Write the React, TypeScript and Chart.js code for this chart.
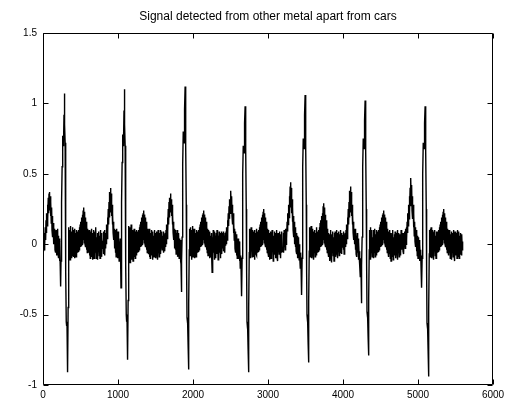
import React, { useEffect, useRef } from "react";
import { Chart, registerables } from "chart.js";

Chart.register(...registerables);

const chartTitle = "Signal detected from other metal apart from cars";
const xTickValues = [0, 1000, 2000, 3000, 4000, 5000, 6000];
const yTickValues = [-1, -0.5, 0, 0.5, 1, 1.5];
const sampleStep = 5;

const beat1 = [
  0.03, -0.05, 0.07, -0.04, 0.08, 0.0, 0.12, 0.03, 0.17, 0.08,
  0.22, 0.13, 0.28, 0.18, 0.33, 0.22, 0.36, 0.37, 0.24, 0.34,
  0.2, 0.3, 0.15, 0.26, 0.1, 0.2, 0.05, 0.15, 0.0, 0.12,
  0.03, 0.11, -0.04, 0.09, -0.06, 0.1, -0.08, 0.07, -0.05, 0.11,
  -0.07, 0.06, -0.1, 0.04, -0.12, 0.02, -0.16, -0.3, -0.12, 0.05,
  0.3, 0.55, 0.77, 0.72, 0.7, 0.76, 0.92, 1.07, 0.85, 0.72,
  0.3, -0.2, -0.55, -0.58, -0.56, -0.75, -0.91, -0.45, -0.05, 0.12,
  -0.09, 0.1, -0.11, 0.13, -0.06, 0.09, -0.1, 0.08, -0.08, 0.12,
  -0.05, 0.1, -0.09, 0.07, -0.1, 0.11, -0.06, 0.08, -0.09, 0.1,
  -0.08, 0.08, -0.06, 0.09, -0.05, 0.1, -0.04, 0.12, -0.03, 0.14,
  -0.02, 0.16, -0.01, 0.19, 0.0, 0.21, 0.02, 0.24, 0.03, 0.26,
  0.01, 0.23, 0.0, 0.19, -0.02, 0.16, -0.04, 0.13, -0.06, 0.11,
  -0.04, 0.09, -0.06, 0.1, -0.08, 0.07, -0.1, 0.09, -0.07, 0.11,
  -0.09, 0.06, -0.11, 0.08, -0.05, 0.1, -0.1, 0.07, -0.08, 0.09,
  -0.06, 0.12, -0.1, 0.05, -0.09, 0.08, -0.11, 0.07, -0.04, 0.09,
  -0.08, 0.06, -0.1, 0.1, -0.05, 0.08, -0.09, 0.05, -0.03, 0.02,
];
const beat2 = [
  0.02, -0.07, 0.09, -0.05, 0.1, -0.08, 0.06, -0.03, 0.08, 0.0,
  0.14, 0.04, 0.19, 0.09, 0.25, 0.14, 0.3, 0.19, 0.37, 0.23,
  0.4, 0.24, 0.36, 0.2, 0.28, 0.14, 0.22, 0.08, 0.16, 0.03,
  0.11, -0.03, 0.1, -0.06, 0.08, -0.09, 0.11, -0.05, 0.07, -0.1,
  0.09, -0.07, 0.05, -0.12, 0.02, -0.1, 0.04, -0.12, -0.31, -0.1,
  0.3, 0.58, 0.78, 0.72, 0.7, 0.78, 0.95, 1.1, 0.85, 0.7,
  0.25, -0.15, -0.5, -0.55, -0.52, -0.7, -0.82, -0.4, -0.03, 0.13,
  -0.1, 0.12, -0.13, 0.09, -0.08, 0.14, -0.11, 0.07, -0.06, 0.1,
  -0.12, 0.08, -0.07, 0.11, -0.09, 0.06, -0.1, 0.09, -0.05, 0.1,
  -0.08, 0.08, -0.06, 0.09, -0.05, 0.1, -0.04, 0.12, -0.03, 0.14,
  -0.02, 0.16, -0.01, 0.19, 0.0, 0.21, 0.02, 0.22, 0.03, 0.24,
  0.01, 0.21, 0.0, 0.19, -0.02, 0.16, -0.04, 0.13, -0.06, 0.11,
  -0.04, 0.09, -0.07, 0.11, -0.09, 0.06, -0.1, 0.08, -0.06, 0.1,
  -0.08, 0.07, -0.11, 0.09, -0.05, 0.06, -0.09, 0.1, -0.07, 0.08,
  -0.1, 0.06, -0.04, 0.09, -0.08, 0.07, -0.11, 0.1, -0.06, 0.05,
  -0.09, 0.08, -0.05, 0.1, -0.07, 0.06, -0.03, 0.09, -0.04, 0.0,
];
const beat3 = [
  0.06, -0.06, 0.09, -0.03, 0.07, -0.05, 0.08, -0.02, 0.1, 0.0,
  0.14, 0.04, 0.19, 0.09, 0.25, 0.14, 0.3, 0.19, 0.33, 0.23,
  0.36, 0.24, 0.32, 0.2, 0.28, 0.14, 0.22, 0.08, 0.16, 0.03,
  0.11, -0.03, 0.1, -0.04, 0.09, -0.07, 0.08, -0.05, 0.1, -0.09,
  0.06, -0.06, 0.08, -0.1, 0.04, -0.08, 0.03, -0.12, -0.14, -0.34,
  -0.12, 0.05, 0.3, 0.57, 0.8, 0.74, 0.72, 0.8, 0.96, 1.12,
  0.86, 0.7, 0.28, -0.2, -0.52, -0.56, -0.54, -0.72, -0.89, -0.42,
  -0.04, 0.11, -0.08, 0.12, -0.06, 0.1, -0.11, 0.08, -0.07, 0.13,
  -0.09, 0.07, -0.05, 0.11, -0.1, 0.09, -0.06, 0.08, -0.09, 0.1,
  -0.08, 0.08, -0.06, 0.09, -0.05, 0.1, -0.04, 0.12, -0.03, 0.14,
  -0.02, 0.16, -0.01, 0.19, 0.0, 0.21, 0.02, 0.22, 0.03, 0.24,
  0.01, 0.21, 0.0, 0.19, -0.02, 0.16, -0.04, 0.13, -0.06, 0.11,
  -0.08, 0.1, -0.06, 0.07, -0.1, 0.09, -0.07, 0.06, -0.09, 0.08,
  -0.06, -0.2, 0.05, -0.08, 0.1, -0.06, 0.07, -0.11, 0.09, -0.05,
  0.06, -0.1, 0.08, -0.07, 0.1, -0.04, 0.07, -0.11, 0.06, -0.08,
  0.09, -0.06, 0.08, -0.1, 0.05, -0.04, 0.09, -0.07, 0.08, -0.03,
];
const beat4 = [
  0.07, -0.05, 0.09, -0.03, 0.06, -0.06, 0.08, -0.01, 0.09, 0.0,
  0.12, 0.03, 0.17, 0.08, 0.22, 0.13, 0.27, 0.18, 0.32, 0.22,
  0.35, 0.38, 0.25, 0.34, 0.2, 0.28, 0.14, 0.22, 0.08, 0.16,
  0.03, 0.11, -0.03, 0.09, -0.06, 0.07, -0.08, 0.06, -0.1, 0.04,
  -0.1, 0.04, -0.09, 0.02, -0.12, -0.02, -0.17, -0.08, -0.14, -0.2,
  -0.37, -0.1, 0.25, 0.5, 0.7, 0.66, 0.65, 0.72, 0.86, 0.98,
  0.8, 0.68, 0.25, -0.2, -0.55, -0.6, -0.57, -0.75, -0.91, -0.45,
  -0.06, 0.11, -0.07, 0.09, -0.1, 0.12, -0.05, 0.08, -0.09, 0.1,
  -0.04, 0.09, -0.09, 0.06, -0.11, 0.1, -0.06, 0.08, -0.07, 0.11,
  -0.08, 0.08, -0.06, 0.09, -0.05, 0.1, -0.04, 0.12, -0.03, 0.14,
  -0.02, 0.16, -0.01, 0.19, 0.0, 0.21, 0.02, 0.23, 0.03, 0.25,
  0.01, 0.22, 0.0, 0.19, -0.02, 0.16, -0.04, 0.13, -0.06, 0.11,
  -0.06, 0.1, -0.09, 0.08, -0.11, 0.06, -0.06, 0.09, -0.1, 0.05,
  -0.08, 0.1, -0.05, 0.07, -0.12, 0.06, -0.07, 0.09, -0.04, 0.08,
  -0.1, 0.07, -0.06, 0.1, -0.09, 0.05, -0.12, 0.08, -0.05, 0.06,
  -0.07, 0.09, -0.04, 0.07, -0.1, 0.05, -0.06, 0.09, -0.05, -0.03,
];
const beat5 = [
  -0.03, 0.08, -0.06, 0.1, -0.02, 0.09, -0.04, 0.11, 0.0, 0.1,
  0.04, 0.16, 0.09, 0.22, 0.14, 0.28, 0.19, 0.34, 0.23, 0.41,
  0.44, 0.26, 0.4, 0.22, 0.32, 0.16, 0.26, 0.1, 0.2, 0.05,
  0.16, 0.0, 0.12, -0.02, 0.1, -0.05, 0.08, -0.07, 0.06, -0.1,
  0.05, -0.08, 0.03, -0.11, 0.0, -0.08, -0.17, -0.06, -0.13, -0.2,
  -0.36, -0.1, 0.28, 0.55, 0.75, 0.7, 0.68, 0.76, 0.92, 1.06,
  0.84, 0.7, 0.28, -0.2, -0.5, -0.55, -0.52, -0.7, -0.84, -0.4,
  -0.05, 0.12, -0.09, 0.1, -0.06, 0.13, -0.1, 0.07, -0.05, 0.11,
  -0.08, 0.09, -0.11, 0.07, -0.06, 0.1, -0.09, 0.08, -0.05, 0.12,
  -0.08, 0.08, -0.06, 0.09, -0.05, 0.1, -0.04, 0.12, -0.03, 0.15,
  -0.02, 0.17, -0.01, 0.2, 0.0, 0.22, 0.02, 0.27, 0.03, 0.29,
  0.01, 0.26, 0.0, 0.21, -0.02, 0.17, -0.04, 0.14, -0.06, 0.11,
  -0.05, 0.08, -0.09, 0.07, -0.12, 0.06, -0.08, 0.1, -0.1, 0.04,
  -0.13, 0.07, -0.06, 0.09, -0.08, 0.05, -0.12, 0.08, -0.06, 0.09,
  -0.09, 0.04, -0.07, 0.1, -0.05, 0.08, -0.1, 0.06, -0.04, 0.09,
  -0.08, 0.07, -0.06, 0.1, -0.03, 0.06, -0.07, 0.08, -0.02, 0.06,
];
const beat6 = [
  0.06, -0.04, 0.09, -0.07, 0.07, -0.03, 0.08, -0.02, 0.1, 0.0,
  0.14, 0.04, 0.19, 0.09, 0.25, 0.14, 0.3, 0.19, 0.38, 0.23,
  0.41, 0.24, 0.37, 0.2, 0.28, 0.14, 0.22, 0.08, 0.16, 0.03,
  0.11, 0.0, 0.11, -0.04, 0.09, -0.07, 0.06, -0.09, 0.08, -0.06,
  0.04, -0.11, 0.02, -0.08, -0.05, -0.15, -0.23, -0.1, -0.18, -0.42,
  -0.15, 0.05, 0.3, 0.55, 0.75, 0.69, 0.68, 0.75, 0.88, 1.02,
  0.8, 0.66, 0.25, -0.15, -0.48, -0.52, -0.5, -0.66, -0.79, -0.38,
  -0.04, 0.1, -0.08, 0.12, -0.11, 0.07, -0.06, 0.1, -0.09, 0.05,
  -0.03, 0.1, -0.1, 0.08, -0.06, 0.11, -0.09, 0.07, -0.05, 0.1,
  -0.08, 0.08, -0.06, 0.09, -0.05, 0.1, -0.04, 0.12, -0.03, 0.14,
  -0.02, 0.16, -0.01, 0.19, 0.0, 0.21, 0.02, 0.22, 0.03, 0.24,
  0.01, 0.21, 0.0, 0.19, -0.02, 0.16, -0.04, 0.13, -0.06, 0.11,
  -0.05, 0.09, -0.09, 0.07, -0.07, 0.1, -0.1, 0.08, -0.12, 0.06,
  -0.06, 0.08, -0.09, 0.1, -0.11, 0.05, -0.05, 0.07, -0.08, 0.09,
  -0.1, 0.06, -0.04, 0.08, -0.07, 0.1, -0.11, 0.05, -0.06, 0.08,
  -0.09, 0.07, -0.05, 0.05, -0.08, 0.1, -0.04, 0.06, -0.02, 0.08,
];
const beat7 = [
  -0.05, 0.08, -0.07, 0.06, -0.02, 0.09, -0.03, 0.11, 0.0, 0.12,
  0.03, 0.16, 0.08, 0.22, 0.13, 0.28, 0.18, 0.34, 0.23, 0.4,
  0.27, 0.47, 0.3, 0.42, 0.24, 0.34, 0.18, 0.28, 0.12, 0.22,
  0.06, 0.16, 0.02, 0.12, -0.02, 0.1, -0.05, 0.08, -0.08, 0.06,
  -0.1, 0.05, -0.07, 0.03, -0.12, 0.0, -0.09, -0.04, -0.15, -0.08,
  -0.31, -0.1, 0.25, 0.5, 0.72, 0.68, 0.68, 0.74, 0.86, 0.98,
  0.8, 0.66, 0.25, -0.2, -0.56, -0.6, -0.58, -0.76, -0.94, -0.46,
  -0.07, 0.1, -0.09, 0.11, -0.05, 0.12, -0.1, 0.08, -0.06, 0.1,
  -0.08, 0.07, -0.11, 0.09, -0.05, 0.1, -0.08, 0.06, -0.1, 0.09,
  -0.08, 0.08, -0.06, 0.09, -0.05, 0.1, -0.04, 0.12, -0.03, 0.14,
  -0.02, 0.16, -0.01, 0.19, 0.0, 0.21, 0.02, 0.23, 0.03, 0.25,
  0.01, 0.22, 0.0, 0.19, -0.02, 0.16, -0.04, 0.13, -0.06, 0.11,
  -0.04, 0.1, -0.08, 0.08, -0.06, 0.1, -0.1, 0.07, -0.07, 0.09,
  -0.11, 0.06, -0.05, 0.08, -0.09, 0.1, -0.06, 0.07, -0.12, 0.09,
  -0.08, 0.05, -0.06, 0.08, -0.1, 0.1, -0.05, 0.07, -0.09, 0.09,
  -0.1, 0.06, -0.07, 0.08, -0.06, 0.05, -0.08, 0.07, -0.04, 0.02,
];

const signal = [...beat1, ...beat2, ...beat3, ...beat4, ...beat5, ...beat6, ...beat7];

const FONT = '"Liberation Sans", Arial, Helvetica, sans-serif';

export default function App() {
  const ref = useRef<HTMLCanvasElement | null>(null);

  useEffect(() => {
    if (!ref.current) return;
    const points = signal.map((v, i) => ({ x: i * sampleStep, y: v }));

    const frame = {
      id: "matlabFrame",
      afterDraw(chart: any) {
        const ctx = chart.ctx as CanvasRenderingContext2D;
        const a = chart.chartArea;
        const xs = chart.scales.x;
        const ys = chart.scales.y;
        const L = Math.round(a.left) + 0.5;
        const R = Math.round(a.right) - 0.5;
        const T = Math.round(a.top) + 0.5;
        const B = Math.round(a.bottom) - 0.5;
        ctx.save();
        ctx.strokeStyle = "#000";
        ctx.lineWidth = 1;
        ctx.beginPath();
        ctx.rect(L, T, R - L, B - T);
        const tl = 5;
        for (const v of xTickValues) {
          const px = Math.round(xs.getPixelForValue(v)) + 0.5;
          ctx.moveTo(px, B);
          ctx.lineTo(px, B - tl);
          ctx.moveTo(px, T);
          ctx.lineTo(px, T + tl);
        }
        for (const v of yTickValues) {
          const py = Math.round(ys.getPixelForValue(v)) + 0.5;
          ctx.moveTo(L, py);
          ctx.lineTo(L + tl, py);
          ctx.moveTo(R, py);
          ctx.lineTo(R - tl, py);
        }
        ctx.stroke();
        ctx.fillStyle = "#000";
        ctx.font = `12px ${FONT}`;
        ctx.textAlign = "center";
        ctx.textBaseline = "middle";
        ctx.fillText(chartTitle, 268, 17);
        ctx.restore();
      },
    };

    const chart = new Chart(ref.current, {
      type: "line",
      data: {
        datasets: [
          {
            data: points,
            borderColor: "#000",
            borderWidth: 1.4,
            pointRadius: 0,
            tension: 0,
            fill: false,
          },
        ],
      },
      options: {
        animation: false,
        responsive: false,
        devicePixelRatio: 1,
        layout: { padding: { left: 0, right: 19, top: 33, bottom: 0 } },
        plugins: {
          legend: { display: false },
          tooltip: { enabled: false },
          title: { display: false },
        },
        scales: {
          x: {
            type: "linear",
            min: 0,
            max: 6000,
            afterBuildTicks: (s: any) => {
              s.ticks = xTickValues.map((v) => ({ value: v }));
            },
            afterFit: (s: any) => {
              s.height = 20;
            },
            grid: { display: false, drawTicks: false },
            border: { display: false },
            ticks: {
              color: "#000",
              font: { family: FONT, size: 10 },
              padding: 4,
              maxRotation: 0,
              autoSkip: false,
              callback: (v: any) => String(v),
            },
          },
          y: {
            type: "linear",
            min: -1,
            max: 1.5,
            afterBuildTicks: (s: any) => {
              s.ticks = yTickValues.map((v) => ({ value: v }));
            },
            afterFit: (s: any) => {
              s.width = 43;
            },
            grid: { display: false, drawTicks: false },
            border: { display: false },
            ticks: {
              color: "#000",
              font: { family: FONT, size: 10 },
              padding: 6,
              autoSkip: false,
              callback: (v: any) => String(v),
            },
          },
        },
      },
      plugins: [frame],
    });

    return () => chart.destroy();
  }, []);

  return (
    <div style={{ position: "absolute", left: 0, top: 0, width: 512, height: 405, background: "#fff" }}>
      <canvas ref={ref} width={512} height={405} style={{ display: "block" }} />
    </div>
  );
}
